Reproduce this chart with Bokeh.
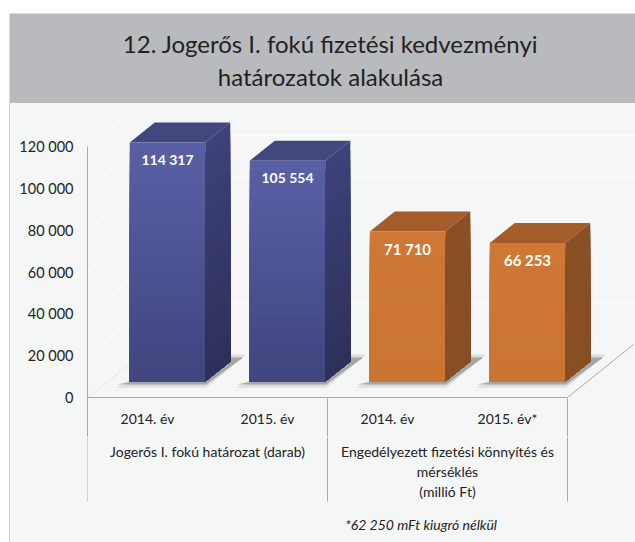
from bokeh.plotting import figure
from bokeh.embed import file_html
from bokeh.resources import INLINE
from bokeh.layouts import column, row
from bokeh.models import FixedTicker, Range1d, Spacer
from bokeh.core.properties import value

title_lines = ["12. Jogerős I. fokú fizetési kedvezményi", "határozatok alakulása"]
categories = ["2014. év", "2015. év", "2014. év", "2015. év*"]
values = [114317, 105554, 71710, 66253]
value_labels = ["114 317", "105 554", "71 710", "66 253"]
value_sizes = ["14px", "14px", "15px", "15px"]
y_ticks = [0, 20000, 40000, 60000, 80000, 100000, 120000]
y_tick_labels = ["0", "20 000", "40 000", "60 000", "80 000", "100 000", "120 000"]
group_left = ["Jogerős I. fokú határozat (darab)"]
group_right = ["Engedélyezett fizetési könnyítés és", "mérséklés", "(millió Ft)"]
footnote = ["*62 250 mFt kiugró nélkül"]

FONT = "Lato"
INK = "#222222"
PANEL = "#f5f6f6"
BAND = "#b9babd"
RULE = "#a9aaaa"

# ---- title band
band = figure(width=626, height=90, output_backend="svg", toolbar_location=None,
              x_range=Range1d(0, 626), y_range=Range1d(0, 90),
              x_axis_location=None, y_axis_location=None,
              min_border=0, outline_line_color=None, border_fill_color=BAND,
              background_fill_color=BAND, margin=(13, 0, 0, 9))
band.xgrid.visible = False
band.ygrid.visible = False
band.text([321, 321], [60, 27], text=title_lines, text_align="center", text_baseline="middle",
          text_font=value(FONT), text_font_size="24px", text_color=INK)

# ---- chart
W, H = 625, 334
LEFT, BOTTOM = 77, 40
TICK_OUT = 39
PX_X = 120.0                # pixels per category
PX_Y = 251.0 / 120000       # pixels per unit
frame_w = W - LEFT
frame_h = H - BOTTOM
x_start, x_stop = -0.5, -0.5 + frame_w / PX_X

p = figure(width=W, height=H, output_backend="svg", toolbar_location=None,
           x_range=Range1d(x_start, x_stop),
           y_range=Range1d(0, frame_h / PX_Y),
           min_border_left=LEFT, min_border_right=0, min_border_top=0, min_border_bottom=BOTTOM,
           outline_line_color=None, border_fill_color=PANEL, background_fill_color=PANEL)
p.xgrid.visible = False
p.ygrid.visible = False

def dx(px):
    return px / PX_X
def dy(px):
    return px / PX_Y

# 3D wall grid
depth_x, depth_y = dx(66), dy(53)
for t in y_ticks[1:]:
    p.line([x_start, x_start + depth_x, x_stop], [t, t + depth_y, t + depth_y], line_color="#fbfcfc", line_width=1.2)
p.line([x_start, x_start + dx(42)], [0, dy(33)], line_color="#d8d8d8", line_width=1, line_dash="2 2")
p.line([3.5, 3.5 + depth_x], [0, depth_y], line_color=RULE, line_width=1)

# bars
base = dy(16)
off = dx(20)
half = dx(75.5) / 2
dep_x, dep_y = dx(25), dy(20)
front = ["#5a60a5", "#5a60a5", "#cf7835", "#cf7835"]
front_dark = ["#40457f", "#40457f", "#cb7533", "#cb7533"]
side = ["#3e4279", "#3e4279", "#8a4f24", "#8a4f24"]
side_dark = ["#2d3059", "#2d3059", "#884e24", "#884e24"]
top_col = ["#42477d", "#42477d", "#a55c2b", "#a55c2b"]

def mix(a, b, t):
    ca = [int(a[i:i + 2], 16) for i in (1, 3, 5)]
    cb = [int(b[i:i + 2], 16) for i in (1, 3, 5)]
    return "#%02x%02x%02x" % tuple(round(u + (w - u) * t) for u, w in zip(ca, cb))

N = 24
for i, v in enumerate(values):
    c = i + off
    l, r = c - half, c + half
    yb, yt = base, v + base
    for grow, alpha in ((3, 0.25), (0, 0.7)):
        p.patch([l - dx(12 + grow), r + dx(1), r + dep_x + dx(13 + grow), r + dep_x],
                [yb - dy(3 + grow), yb - dy(3 + grow), yb + dep_y + dy(4 + grow), yb + dep_y + dy(4 + grow)],
                fill_color="#8f9090", fill_alpha=alpha, line_color=None)
    p.patch([l + dep_x, r + dep_x, r, l], [yt + dep_y, yt + dep_y, yt, yt], fill_color=top_col[i], line_color=None)
    for k in range(N):
        a = yt + (yb - yt) * k / N
        t = (k + 0.5) / N
        p.patch([l, r, r, l], [yb, yb, a, a], fill_color=mix(front[i], front_dark[i], t), line_color=None)
        p.patch([r, r + dep_x, r + dep_x, r], [yb, yb + dep_y, a + dep_y, a], fill_color=mix(side[i], side_dark[i], t), line_color=None)

tx = [i + off for i in range(4)]
ty = [v + base for v in values]
p.text(tx, ty, text=value_labels, text_color="#ffffff", text_align="center", text_baseline="middle",
       text_font=value(FONT), text_font_size=value_sizes, text_font_style="bold", y_offset=17)

# axes
p.yaxis.bounds = (0, 120000)
p.yaxis.ticker = FixedTicker(ticks=y_ticks)
p.yaxis.major_label_overrides = {t: s for t, s in zip(y_ticks, y_tick_labels)}
p.yaxis.major_tick_line_color = None
p.yaxis.major_tick_out = 0
p.yaxis.minor_tick_line_color = None
p.yaxis.minor_tick_out = 0
p.yaxis.axis_line_color = RULE
p.yaxis.major_label_text_font = FONT
p.yaxis.major_label_text_font_size = "14.5px"
p.yaxis.major_label_text_color = INK
p.yaxis.major_label_standoff = 14

dividers = [-0.5, 1.5, 3.5]
p.xaxis.bounds = (-0.5, 3.5)
p.xaxis.ticker = FixedTicker(ticks=list(range(4)), minor_ticks=dividers)
p.xaxis.major_label_overrides = {i: s for i, s in enumerate(categories)}
p.xaxis.major_tick_line_color = None
p.xaxis.major_tick_out = 0
p.xaxis.minor_tick_line_color = RULE
p.xaxis.minor_tick_in = 0
p.xaxis.minor_tick_out = TICK_OUT
p.xaxis.axis_line_color = RULE
p.xaxis.major_label_text_font = FONT
p.xaxis.major_label_text_font_size = "14px"
p.xaxis.major_label_text_color = INK
p.xaxis.major_label_standoff = 12 - TICK_OUT

# ---- lower captions (y is pixels below the chart)
low = figure(width=W, height=105, output_backend="svg", toolbar_location=None,
             x_range=Range1d(x_start, x_stop), y_range=Range1d(105, 0),
             x_axis_location=None, y_axis_location=None,
             min_border_left=LEFT, min_border_right=0, min_border_top=0, min_border_bottom=0,
             outline_line_color=None, border_fill_color=PANEL, background_fill_color=PANEL)
low.xgrid.visible = False
low.ygrid.visible = False
for d in dividers:
    low.line([d, d], [-1, 64], line_color=RULE, line_width=1)

def caption(xs, ys, txt, style="normal"):
    low.text(xs, ys, text=txt, text_align="center", text_baseline="middle", text_font=value(FONT),
             text_font_size="14px", text_font_style=style, text_color=INK)

caption([0.5], [14], group_left)
caption([2.5, 2.5, 2.5], [14, 34, 54], group_right)
caption([2.28], [87], footnote, style="italic")

rule = Spacer(width=1, height=H + 105, styles={"background-color": "#c9cacb"}, margin=(0, 0, 0, 9))
stack = column(p, low, spacing=0, styles={"background-color": PANEL})
page = column(band, row(rule, stack, spacing=0), spacing=0)
open("out.html", "w").write(file_html(page, INLINE))
